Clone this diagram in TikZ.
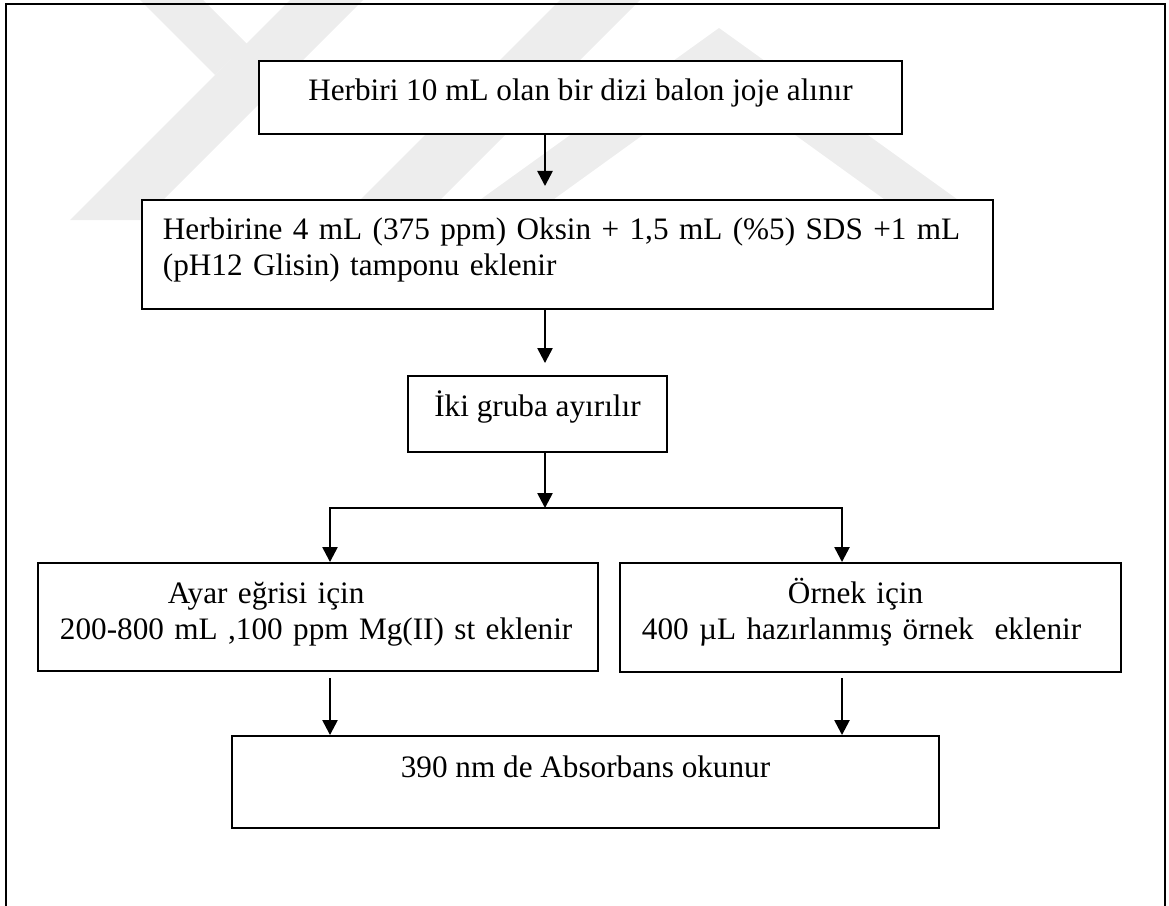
\documentclass[tikz,border=0pt]{standalone}
\usepackage{fontspec}
\setmainfont{Liberation Serif}
\usetikzlibrary{arrows.meta}

\begin{document}
\begin{tikzpicture}[x=0.025cm, y=-0.025cm,
        box/.style={draw, line width=1.4pt, fill=white, inner ysep=0pt,
            font=\fontsize{22.2}{25.6}\selectfont},
        arr/.style={line width=1.4pt, -{Triangle[length=0.375cm, width=0.38cm]}},
        logo/.style={fill=black!7}]
        \useasboundingbox (0, 0) rectangle (1169, 906);
        % watermark
        \fill[logo] (70, 220) -- (143, 220) -- (363, 0) -- (290, 0) -- cycle;
        \fill[logo] (140, 0) -- (203, 0) -- (247, 44) -- (215, 75) -- cycle;
        \fill[logo] (340, 220) -- (420, 220) -- (640, 0) -- (560, 0) -- cycle;
        \fill[logo] (452, 220) -- (719, 28) -- (986, 220) -- (913, 220) -- (719, 80) -- (525, 220) -- cycle;
        \draw[line width=2.1pt] (6, 906) -- (6, 4) -- (1165, 4) -- (1165, 906);

        \node[box, minimum width=16.075cm, text height=1cm, text depth=0.825cm] (alin) at (580.5, 97.5)
            {Herbiri 10 mL olan bir dizi balon joje alınır};
        \node[box, inner xsep=0.525cm, text width=20.225cm, align=left, text height=1cm, text depth=1.725cm] (ekle) at (567.5, 254.5)
            {\mbox{Herbirine 4 mL (375 ppm) Oksin + 1,5 mL (\%5) SDS +1 mL}\\(pH12 Glisin) tamponu eklenir};
        \node[box, minimum width=6.475cm, text height=1cm, text depth=0.9cm] (ayir) at (537.5, 414)
            {İki gruba ayırılır};
        \node[box, inner xsep=0.55cm, text width=12.9cm, align=left, text height=1cm, text depth=1.7cm] (ayar) at (318, 617)
            {\hspace*{2.7cm}Ayar eğrisi için\\\mbox{200-800 mL ,100 ppm Mg(II) st eklenir}};
        \node[box, inner xsep=0.55cm, text width=11.425cm, align=left, text height=1cm, text depth=1.725cm] (ornek) at (870.5, 617.5)
            {\hspace*{3.65cm}Örnek için\\\mbox{400 µL hazırlanmış örnek~ eklenir}};
        \node[box, minimum width=17.675cm, text height=1.025cm, text depth=1.275cm] (oku) at (585.5, 782)
            {390 nm de Absorbans okunur};

        \coordinate (spine) at (545, 0);
        \coordinate (fork) at (545, 508);
        \coordinate (lx) at (330, 0);
        \coordinate (rx) at (842, 0);
        \draw[arr, shorten >=0.325cm] (alin.south -| spine) -- (ekle.north -| spine);
        \draw[arr, shorten >=0.3cm] (ekle.south -| spine) -- (ayir.north -| spine);
        \draw[arr] (ayir.south -| spine) -- (fork);
        \draw[arr] (fork) -| (ayar.north -| lx);
        \draw[arr] (fork) -| (ornek.north -| rx);
        \draw[arr, shorten <=0.15cm] (ayar.south -| lx) -- (oku.north -| lx);
        \draw[arr, shorten <=0.125cm] (ornek.south -| rx) -- (oku.north -| rx);
    \end{tikzpicture}
\end{document}
